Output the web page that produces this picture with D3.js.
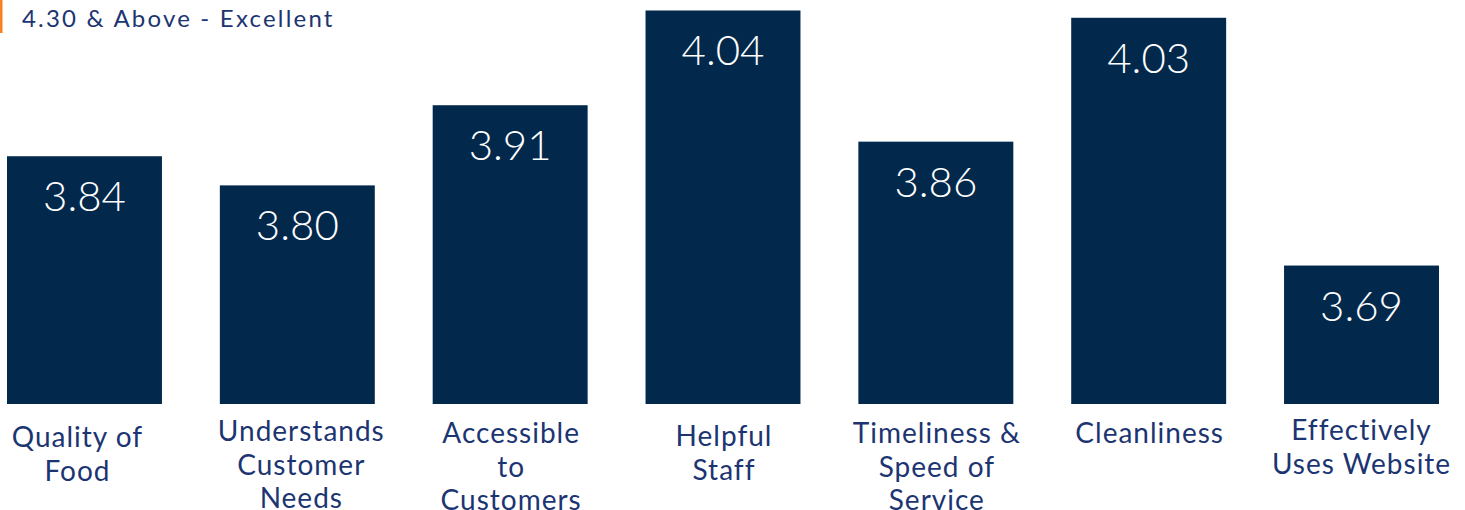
<!DOCTYPE html>
<html><head><meta charset="utf-8">
<script src="https://cdn.jsdelivr.net/npm/d3@7"></script>
<style>
html,body{margin:0;padding:0;background:#fff;}
svg{display:block;}
</style></head>
<body>
<svg id="chart" width="1465" height="510"></svg>
<script>
const categories = ["Quality of Food","Understands Customer Needs","Accessible to Customers","Helpful Staff","Timeliness & Speed of Service","Cleanliness","Effectively Uses Website"];
const labelLines = [["Quality of","Food"],["Understands","Customer","Needs"],["Accessible","to","Customers"],["Helpful","Staff"],["Timeliness &","Speed of","Service"],["Cleanliness"],["Effectively","Uses Website"]];
const values = [3.84, 3.80, 3.91, 4.04, 3.86, 4.03, 3.69];
const valueLabels = ["3.84","3.80","3.91","4.04","3.86","4.03","3.69"];
const legendText = "4.30 & Above - Excellent";

// layout (not data)
const labelTop = [447, 441, 443, 446, 443, 443, 440];
const labelDx = [-7, 4, 1, 1, 1, 1, 0];

const svg = d3.select("#chart");
const x = d3.scaleBand().domain(categories).range([7, 1439]).paddingInner(0.272).paddingOuter(0);
const y = d3.scaleLinear().domain([3.5, 4.05]).range([404, 3.2]);

const navy = "#02284c";
const textBlue = "#1c3572";
const font = "Lato, 'Open Sans', sans-serif";

svg.selectAll("rect.bar").data(values).join("rect")
  .attr("class","bar")
  .attr("x",(d,i)=>x(categories[i]))
  .attr("width",x.bandwidth())
  .attr("y",d=>y(d))
  .attr("height",d=>y(3.5)-y(d))
  .attr("fill",navy);

svg.selectAll("text.val").data(values).join("text")
  .attr("class","val")
  .attr("x",(d,i)=>x(categories[i])+x.bandwidth()/2)
  .attr("y",d=>y(d)+55)
  .attr("text-anchor","middle")
  .attr("fill","#fff")
  .attr("font-family",font)
  .attr("font-weight",300)
  .attr("font-size",42)
  .text((d,i)=>valueLabels[i]);

const lab = svg.selectAll("text.cat").data(categories).join("text")
  .attr("class","cat")
  .attr("text-anchor","middle")
  .attr("fill",textBlue)
  .attr("font-family",font)
  .attr("font-size",28)
  .attr("letter-spacing",1);
lab.each(function(d,i){
  const t = d3.select(this);
  const cx = x(d)+x.bandwidth()/2+labelDx[i];
  labelLines[i].forEach((line,j)=>{
    t.append("tspan").attr("x",cx).attr("y",labelTop[i]+j*33.5).text(line);
  });
});

// legend
svg.append("rect").attr("x",0).attr("y",0).attr("width",2.5).attr("height",33).attr("fill","#f58220");
svg.append("text").attr("x",22).attr("y",27).attr("fill",textBlue)
  .attr("font-family",font).attr("font-size",24).attr("letter-spacing",2.2).text(legendText);
</script>
</body></html>
